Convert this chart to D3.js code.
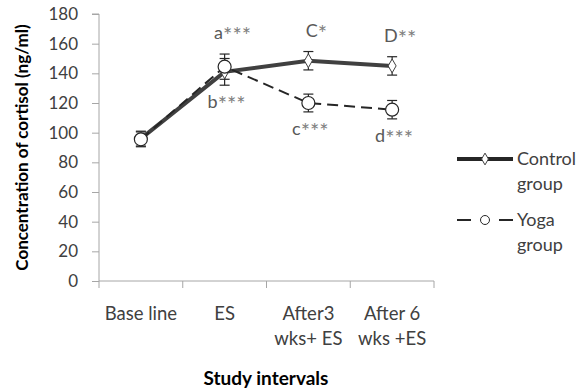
<!DOCTYPE html>
<html lang="en">
  <head>
    <meta charset="utf-8">
    <title>Cortisol</title>
    <style>
      body { margin: 0; background: #fff; }
      text { font-family: 'Lato', 'Open Sans', sans-serif; fill: #404040; }
      .tick text { font-size: 17px; }
      .cat { font-size: 18.5px; }
      .axis-title { font-weight: bold; fill: #000; }
      .sig { font-size: 18px; fill: #595959; }
      .sig .stars { font-size: 22px; fill: #7f7f7f; }
      .legend-text { font-size: 18px; fill: #404040; }
    </style>
  </head>
  <body>
    <div id="viz"></div>
    <script src="https://d3js.org/d3.v7.min.js"></script>
    <script>
      const intervals = ["Base line", "ES", "After3|wks+ ES", "After 6|wks +ES"];
      const controlMean = [96, 141, 148.5, 145];
      const controlErr = [5, 9, 6.2, 6.2];
      const yogaMean = [95.5, 144.5, 120, 115.5];
      const yogaErr = [5, 8.5, 6, 6.2];
      const controlSig = ["", "a***", "C*", "D**"];
      const yogaSig = ["", "b***", "c***", "d***"];
      const yTicks = [0, 20, 40, 60, 80, 100, 120, 140, 160, 180];

      const width = 581, height = 391;
      const svg = d3.select("#viz").append("svg")
        .attr("width", width).attr("height", height);

      const x = d3.scaleBand().domain(intervals).range([99, 434]);
      const y = d3.scaleLinear().domain([0, 180]).range([281, 14]);
      const cx = d => x(d) + x.bandwidth() / 2;

      svg.append("g")
        .attr("transform", "translate(99,0)")
        .call(d3.axisLeft(y).tickValues(yTicks).tickSize(7).tickPadding(14))
        .call(g => g.selectAll("line, path").attr("stroke", "#a6a6a6"))
        .call(g => g.select(".domain").attr("d", `M-7,${y(180)}H0V${y(0)}`));

      const xAxis = svg.append("g")
        .attr("transform", `translate(0,${y(0)})`)
        .call(d3.axisBottom(x).tickSize(0).tickFormat(""))
        .call(g => g.select(".domain").attr("stroke", "#a6a6a6").attr("d", `M99,0H434`));
      // category boundary ticks
      xAxis.selectAll(".bound")
        .data([99, ...intervals.map(d => x(d) + x.bandwidth())])
        .join("line")
        .attr("x1", d => d).attr("x2", d => d)
        .attr("y1", 0).attr("y2", 7)
        .attr("stroke", "#a6a6a6");
      xAxis.selectAll(".cat")
        .data(intervals)
        .join("text")
        .attr("class", "cat")
        .attr("text-anchor", "middle")
        .each(function(d) {
          const lines = d.split("|");
          d3.select(this).selectAll("tspan").data(lines).join("tspan")
            .attr("x", cx(d))
            .attr("y", (l, i) => 39 + i * 25)
            .text(l => l);
        });

      svg.append("text").attr("class", "axis-title")
        .style("font-size", "19px")
        .attr("x", 266).attr("y", 385).attr("text-anchor", "middle")
        .text("Study intervals");
      svg.append("text").attr("class", "axis-title")
        .style("font-size", "17px")
        .attr("transform", `translate(28,${y(90)}) rotate(-90)`)
        .attr("text-anchor", "middle")
        .text("Concentration of cortisol (ng/ml)");

      const line = d3.line().x((d, i) => cx(intervals[i])).y(d => y(d));

      function errBars(mean, err) {
        const g = svg.append("g").attr("stroke", "#262626").attr("stroke-width", 1.2);
        mean.forEach((m, i) => {
          const px = cx(intervals[i]);
          g.append("line").attr("x1", px).attr("x2", px).attr("y1", y(m - err[i])).attr("y2", y(m + err[i]));
          g.append("line").attr("x1", px - 5).attr("x2", px + 5).attr("y1", y(m - err[i])).attr("y2", y(m - err[i]));
          g.append("line").attr("x1", px - 5).attr("x2", px + 5).attr("y1", y(m + err[i])).attr("y2", y(m + err[i]));
        });
      }

      errBars(yogaMean, yogaErr);
      errBars(controlMean, controlErr);

      svg.append("path").datum(controlMean)
        .attr("d", line).attr("fill", "none")
        .attr("stroke", "#404040").attr("stroke-width", 4);
      svg.append("path").datum(yogaMean)
        .attr("d", line).attr("fill", "none")
        .attr("stroke", "#262626").attr("stroke-width", 2)
        .attr("stroke-dasharray", "11 6");

      const diamond = d3.symbol().type(d3.symbolDiamond).size(55);
      svg.selectAll(".cm").data(controlMean).join("path")
        .attr("transform", (d, i) => `translate(${cx(intervals[i])},${y(d)})`)
        .attr("d", diamond).attr("fill", "#fff").attr("stroke", "#404040").attr("stroke-width", 1);
      svg.selectAll(".ym").data(yogaMean).join("circle")
        .attr("cx", (d, i) => cx(intervals[i])).attr("cy", d => y(d)).attr("r", 6.5)
        .attr("fill", "#fff").attr("stroke", "#262626").attr("stroke-width", 1.2);

      // significance labels: letter plus bigger asterisks
      function sigText(sel) {
        sel.each(function(d) {
          const t = d3.select(this);
          t.append("tspan").text(d.replace(/\*/g, ""));
          t.append("tspan").attr("class", "stars").attr("dy", 4).text(d.replace(/[^*]/g, ""));
        });
      }
      const upper = intervals.map((d, i) => Math.max(controlMean[i] + controlErr[i], yogaMean[i] + yogaErr[i]));
      const lower = intervals.map((d, i) => Math.min(controlMean[i] - controlErr[i], yogaMean[i] - yogaErr[i]));
      svg.selectAll(".csig").data(controlSig).join("text")
        .attr("class", "sig").attr("text-anchor", "middle")
        .attr("x", (d, i) => cx(intervals[i]) + 8)
        .attr("y", (d, i) => y(upper[i]) - 15)
        .call(sigText);
      svg.selectAll(".ysig").data(yogaSig).join("text")
        .attr("class", "sig").attr("text-anchor", "middle")
        .attr("x", (d, i) => cx(intervals[i]) + 2)
        .attr("y", (d, i) => y(i === 1 ? lower[i] : yogaMean[i] - yogaErr[i]) + 23)
        .call(sigText);

      // legend
      const legend = [
        { name: ["Control", "group"], y: 159, dash: false, w: 4, sym: "diamond" },
        { name: ["Yoga", "group"], y: 220, dash: true, w: 2, sym: "circle" }
      ];
      legend.forEach(l => {
        svg.append("line").attr("x1", 457).attr("x2", 513).attr("y1", l.y).attr("y2", l.y)
          .attr("stroke", "#262626").attr("stroke-width", l.w)
          .attr("stroke-dasharray", l.dash ? "14 28" : null);
        if (l.sym === "diamond") {
          svg.append("path").attr("transform", `translate(485,${l.y})`)
            .attr("d", d3.symbol().type(d3.symbolDiamond).size(40))
            .attr("fill", "#fff").attr("stroke", "#404040");
        } else {
          svg.append("circle").attr("cx", 485).attr("cy", l.y).attr("r", 4.5)
            .attr("fill", "#fff").attr("stroke", "#262626");
        }
        svg.append("text").attr("class", "legend-text")
          .attr("x", 517).attr("y", l.y + 6).text(l.name[0]);
        svg.append("text").attr("class", "legend-text")
          .attr("x", 517).attr("y", l.y + 31).text(l.name[1]);
      });
    </script>
  </body>
</html>
